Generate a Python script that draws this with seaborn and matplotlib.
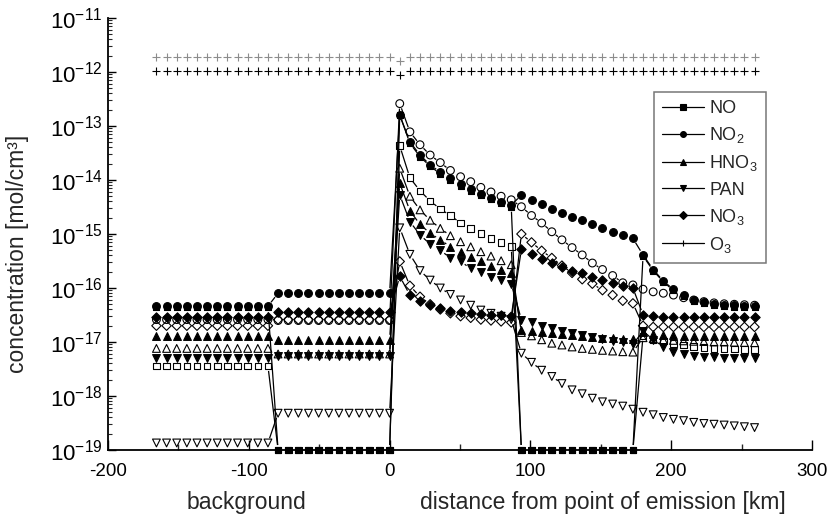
import numpy as np
import matplotlib
matplotlib.use("Agg")
import matplotlib.pyplot as plt
import seaborn as sns
from matplotlib.lines import Line2D
from matplotlib.collections import LineCollection
from matplotlib.ticker import FixedLocator, LogLocator, NullFormatter

sns.set_theme(style="ticks")
plt.rcParams["font.family"] = ["Liberation Sans", "DejaVu Sans"]
plt.rcParams["mathtext.default"] = "regular"

# model output every 7.2 km along the trajectory (0 = point of emission)
distance_km = np.round(np.arange(-165.6, 260.0, 7.2), 1)

FLOOR = 1e-19  # values below the axis floor are shown on it

# ---- run 1 (filled symbols) ----
no_a = ([4.4e-17] * 12 + [FLOOR] * 12 +
        [1.6e-13, 4.8e-14, 2.7e-14, 1.8e-14, 1.3e-14, 1.0e-14, 7.8e-15, 6.3e-15, 5.3e-15, 4.4e-15, 3.7e-15, 3.2e-15] +
        [FLOOR] * 12 +
        [3.9e-16, 2.1e-16, 1.3e-16, 9.0e-17, 7.0e-17, 5.8e-17, 5.2e-17, 4.8e-17, 4.6e-17, 4.5e-17, 4.4e-17, 4.4e-17])
no2_a = ([4.6e-17] * 12 + [8.0e-17] * 12 +
         [1.6e-13, 5.1e-14, 2.9e-14, 1.9e-14, 1.4e-14, 1.07e-14, 8.3e-15, 6.7e-15, 5.6e-15, 4.7e-15, 3.9e-15, 3.4e-15] +
         [5.3e-15, 4.3e-15, 3.6e-15, 2.9e-15, 2.5e-15, 2.1e-15, 1.8e-15, 1.5e-15, 1.27e-15, 1.1e-15, 9.6e-16, 8.3e-16] +
         [4.1e-16, 2.2e-16, 1.35e-16, 9.4e-17, 7.3e-17, 6.1e-17, 5.5e-17, 5.1e-17, 4.9e-17, 4.8e-17, 4.7e-17, 4.6e-17])
hno3_a = ([1.3e-17] * 12 + [1.1e-17] * 12 +
          [8.7e-15, 2.7e-15, 1.5e-15, 1.03e-15, 7.8e-16, 5.8e-16, 4.7e-16, 3.8e-16, 3.2e-16, 2.6e-16, 2.2e-16, 1.9e-16] +
          [1.7e-17, 1.6e-17, 1.5e-17, 1.45e-17, 1.4e-17, 1.35e-17, 1.3e-17, 1.25e-17, 1.2e-17, 1.2e-17, 1.15e-17, 1.15e-17] +
          [1.5e-17, 1.4e-17, 1.35e-17, 1.33e-17, 1.3e-17, 1.3e-17, 1.3e-17, 1.3e-17, 1.3e-17, 1.3e-17, 1.3e-17, 1.3e-17])
pan_a = ([5.0e-18] * 12 + [5.5e-18] * 12 +
         [5.3e-15, 1.7e-15, 9.6e-16, 6.5e-16, 5.0e-16, 3.6e-16, 3.1e-16, 2.3e-16, 2.0e-16, 1.6e-16, 1.4e-16, 1.2e-16] +
         [2.6e-17, 2.3e-17, 2.0e-17, 1.8e-17, 1.6e-17, 1.45e-17, 1.35e-17, 1.25e-17, 1.15e-17, 1.05e-17, 9.8e-18, 9.0e-18] +
         [1.6e-17, 1.1e-17, 8.2e-18, 6.6e-18, 5.9e-18, 5.5e-18, 5.3e-18, 5.2e-18, 5.1e-18, 5.0e-18, 5.0e-18, 5.0e-18])
no3_a = ([2.9e-17] * 12 + [3.6e-17] * 12 +
         [1.65e-16, 7.4e-17, 5.8e-17, 4.8e-17, 4.2e-17, 3.8e-17, 3.6e-17, 3.4e-17, 3.3e-17, 3.2e-17, 3.1e-17, 3.0e-17] +
         [5.2e-16, 4.3e-16, 3.5e-16, 2.9e-16, 2.5e-16, 2.1e-16, 1.9e-16, 1.6e-16, 1.4e-16, 1.26e-16, 1.1e-16, 1.0e-16] +
         [3.2e-17, 3.0e-17] + [2.9e-17] * 10)
o3_a = [1.05e-12] * 24 + [8.7e-13] + [1.05e-12] * 35

# ---- run 2 (open symbols, grey O3) ----
no_b = ([3.6e-18] * 12 + [FLOOR] * 12 +
        [4.3e-14, 1.1e-14, 6.3e-15, 4.1e-15, 2.9e-15, 2.2e-15, 1.6e-15, 1.27e-15, 1.02e-15, 8.3e-16, 6.9e-16, 5.8e-16] +
        [FLOOR] * 12 +
        [1.3e-17, 1.1e-17, 1.05e-17, 9.5e-18, 8.8e-18, 8.2e-18, 7.9e-18, 7.6e-18, 7.5e-18, 7.4e-18, 7.3e-18, 7.3e-18])
no2_b = ([2.6e-17] * 12 + [2.5e-17] * 12 +
         [2.6e-13, 7.8e-14, 4.5e-14, 2.9e-14, 2.1e-14, 1.5e-14, 1.15e-14, 9.3e-15, 7.3e-15, 6.0e-15, 5.0e-15, 4.3e-15] +
         [3.2e-15, 2.2e-15, 1.6e-15, 1.1e-15, 7.8e-16, 5.6e-16, 4.1e-16, 2.9e-16, 2.2e-16, 1.7e-16, 1.25e-16, 1.14e-16] +
         [9.5e-17, 8.5e-17, 8.0e-17, 7.4e-17, 6.6e-17, 6.0e-17, 5.6e-17, 5.3e-17, 5.1e-17, 5.0e-17, 4.9e-17, 4.8e-17])
hno3_b = ([7.6e-18] * 12 + [6.0e-18] * 12 +
          [1.65e-14, 5.0e-15, 2.8e-15, 1.8e-15, 1.27e-15, 9.3e-16, 7.2e-16, 5.8e-16, 4.7e-16, 3.9e-16, 3.2e-16, 2.7e-16] +
          [1.5e-17, 1.3e-17, 1.1e-17, 9.5e-18, 8.8e-18, 8.1e-18, 7.6e-18, 7.3e-18, 7.0e-18, 6.8e-18, 6.6e-18, 6.5e-18] +
          [1.2e-17, 1.15e-17, 1.1e-17, 1.07e-17, 1.05e-17, 1.03e-17, 1.02e-17, 1.0e-17, 1.0e-17, 9.9e-18, 9.8e-18, 9.7e-18])
pan_b = ([1.35e-19] * 12 + [4.8e-19] * 12 +
         [1.3e-15, 4.2e-16, 2.1e-16, 1.4e-16, 1.0e-16, 7.6e-17, 6.0e-17, 4.8e-17, 3.9e-17, 3.4e-17, 3.0e-17, 2.6e-17] +
         [6.2e-18, 4.2e-18, 3.0e-18, 2.3e-18, 1.7e-18, 1.3e-18, 1.1e-18, 9.1e-19, 7.8e-19, 7.1e-19, 6.5e-19, 5.7e-19] +
         [5.0e-19, 4.5e-19, 4.0e-19, 3.7e-19, 3.5e-19, 3.25e-19, 3.1e-19, 3.0e-19, 2.9e-19, 2.8e-19, 2.7e-19, 2.6e-19])
no3_b = ([2.0e-17] * 12 + [2.6e-17] * 12 +
         [3.1e-16, 1.1e-16, 6.9e-17, 5.0e-17, 4.0e-17, 3.4e-17, 3.0e-17, 2.8e-17, 2.6e-17, 2.5e-17, 2.4e-17, 2.3e-17] +
         [1.0e-15, 7.0e-16, 4.9e-16, 3.6e-16, 2.6e-16, 1.9e-16, 1.45e-16, 1.2e-16, 9.1e-17, 7.4e-17, 5.8e-17, 5.2e-17] +
         [2.0e-17] + [1.9e-17] * 11)
o3_b = [1.9e-12] * 24 + [1.6e-12] + [1.9e-12] * 35

species = ["NO", "NO$_2$", "HNO$_3$", "PAN", "NO$_3$", "O$_3$"]
symbols = ["s", "o", "^", "v", "D", "+"]
run_a = [no_a, no2_a, hno3_a, pan_a, no3_a, o3_a]
run_b = [no_b, no2_b, hno3_b, pan_b, no3_b, o3_b]

W, H = 836, 519
fig = plt.figure(figsize=(W / 100, H / 100), dpi=100)
ax = fig.add_axes([108 / W, 1 - 450 / H, (812 - 108) / W, (450 - 18) / H])
ax.set_yscale("log")
ax.set_xlim(-200, 300)
ax.set_ylim(1e-19, 1e-11)
ax.set_autoscale_on(False)


def gapped_segments(xs, ys, gap_px):
    """Connect consecutive points, leaving a gap around each symbol."""
    pts = ax.transData.transform(np.column_stack([xs, ys]))
    inv = ax.transData.inverted()
    segs = []
    for p, q in zip(pts[:-1], pts[1:]):
        d = q - p
        length = float(np.hypot(d[0], d[1]))
        if length <= 2 * gap_px + 2:
            continue
        u = d / length
        segs.append(inv.transform(np.array([p + u * gap_px, q - u * gap_px])))
    return segs


# connecting lines first, computed while the axes geometry is fixed
all_segs = []
for run in (run_b, run_a):
    for vals in run:
        all_segs.extend(gapped_segments(distance_km, vals, 5.0))
ax.add_collection(LineCollection(all_segs, colors="black", linewidths=0.9,
                                 zorder=2, clip_on=False), autolim=False)

MS = 5.6  # symbol size in points
for run, open_run in ((run_b, True), (run_a, False)):
    for name, sym, vals in zip(species, symbols, run):
        if sym == "+":
            col = "#8c8c8c" if open_run else "black"
            sns.scatterplot(x=distance_km, y=vals, ax=ax, marker="+", s=5.2 ** 2,
                            color=col, linewidth=0.8, zorder=3, clip_on=False,
                            legend=False)
        else:
            sz = MS * (0.85 if sym in ("s", "D") else 1.0)
            sns.scatterplot(x=distance_km, y=vals, ax=ax, marker=sym, s=sz ** 2,
                            facecolor="none" if open_run else "black",
                            edgecolor="black", linewidth=0.8,
                            zorder=3 if open_run else 4, clip_on=False,
                            legend=False)

# axes styling
for side in ("top", "right"):
    ax.spines[side].set_visible(False)
for side in ("left", "bottom"):
    ax.spines[side].set_linewidth(1.3)
    ax.spines[side].set_color("black")
ax.set_facecolor("white")

ax.xaxis.set_major_locator(FixedLocator([-200, -100, 0, 100, 200, 300]))
ax.xaxis.set_minor_locator(FixedLocator([-150, -50, 50, 150, 250]))
ax.set_xticklabels(["-200", "-100", "0", "100", "200", "300"])
ax.yaxis.set_major_locator(FixedLocator([10.0 ** e for e in range(-19, -10)]))
ax.yaxis.set_minor_locator(LogLocator(base=10, subs=np.arange(2, 10), numticks=20))
ax.yaxis.set_minor_formatter(NullFormatter())
ax.set_yticklabels([f"$10^{{{e}}}$" for e in range(-19, -10)])

ax.tick_params(axis="x", which="major", direction="in", length=7, width=1.0,
               labelsize=13.5, pad=9, colors="black")
ax.tick_params(axis="x", which="minor", direction="in", length=4.3, width=1.0)
ax.tick_params(axis="y", which="major", direction="in", length=5.5, width=1.0,
               labelsize=16, pad=4, colors="black")
ax.tick_params(axis="y", which="minor", direction="in", length=3.0, width=0.8)
ax.set_xlim(-200, 300)
ax.set_ylim(1e-19, 1e-11)

ax.set_ylabel("")
ax.set_xlabel("")
fig.text(18 / W, 1 - 254 / H, "concentration [mol/cm³]", rotation=90,
         ha="center", va="center", fontsize=16.5)
fig.text(246 / W, 1 - 503 / H, "background", ha="center", va="center", fontsize=16.5)
fig.text(603 / W, 1 - 503 / H, "distance from point of emission [km]",
         ha="center", va="center", fontsize=16.5)

handles = [Line2D([], [], color="black", lw=0.9, marker=m, markersize=4.2 if m != "+" else 5,
                  markerfacecolor="black", markeredgecolor="black", markeredgewidth=0.8)
           for m in symbols]
leg = ax.legend(handles, species, loc="upper left",
                bbox_to_anchor=(654 / W, 1 - 92 / H), bbox_transform=fig.transFigure,
                fontsize=13, frameon=True, fancybox=False, borderaxespad=0,
                borderpad=0.45, labelspacing=0.45, handlelength=2.3,
                handletextpad=0.3, numpoints=1)
leg.get_frame().set_edgecolor("#555555")
leg.get_frame().set_linewidth(1.1)
leg.set_zorder(10)

fig.savefig("out.png", dpi=100, facecolor="white")
